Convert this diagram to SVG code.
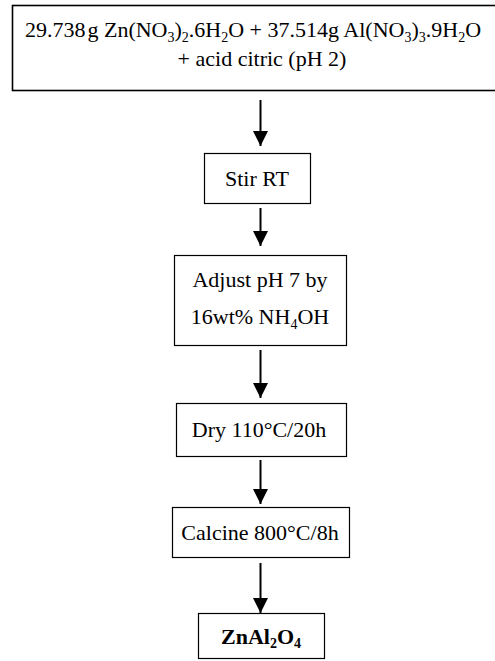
<svg xmlns="http://www.w3.org/2000/svg" width="495" height="661" viewBox="0 0 495 661">
<defs>
<style>
.box{fill:#fff;stroke:#000;stroke-width:1.2}
.t{font-family:"Liberation Serif","Times New Roman",serif;font-size:22px;fill:#000}
.c{text-anchor:middle}
.sub{font-size:14px}
.con{stroke:#000;stroke-width:2;fill:none}
</style>
<marker id="ah" viewBox="0 0 15 15" markerWidth="15" markerHeight="15" markerUnits="userSpaceOnUse" refX="15" refY="7.5" orient="auto">
<path d="M0,0 L15,7.5 L0,15 z" fill="#000"/>
</marker>
</defs>
<rect width="495" height="661" fill="#fff"/>
<g id="connectors">
<line class="con" x1="260.5" y1="100" x2="260.5" y2="146" marker-end="url(#ah)"/>
<line class="con" x1="260.5" y1="208" x2="260.5" y2="246" marker-end="url(#ah)"/>
<line class="con" x1="260.5" y1="350" x2="260.5" y2="398" marker-end="url(#ah)"/>
<line class="con" x1="260.5" y1="460" x2="260.5" y2="504" marker-end="url(#ah)"/>
<line class="con" x1="260.5" y1="563" x2="260.5" y2="613" marker-end="url(#ah)"/>
</g>
<g id="n1">
<rect class="box" x="12.5" y="5.5" width="500" height="85" style="stroke-width:1.6"/>
<text class="t c" x="253" y="37">29.738<tspan dx="2">g Zn(NO</tspan><tspan class="sub" dy="5">3</tspan><tspan dy="-5">)</tspan><tspan class="sub" dy="5">2</tspan><tspan dy="-5">.6H</tspan><tspan class="sub" dy="5">2</tspan><tspan dy="-5">O + 37.514g Al(NO</tspan><tspan class="sub" dy="5">3</tspan><tspan dy="-5">)</tspan><tspan class="sub" dy="5">3</tspan><tspan dy="-5">.9H</tspan><tspan class="sub" dy="5">2</tspan><tspan dy="-5">O</tspan></text>
<text class="t c" x="262" y="66">+ acid citric (pH 2)</text>
</g>
<g id="n2">
<rect class="box" x="204.5" y="153.5" width="106" height="50"/>
<text class="t c" x="257" y="186">Stir RT</text>
</g>
<g id="n3">
<rect class="box" x="174.5" y="255.5" width="172" height="90"/>
<text class="t c" x="260" y="287">Adjust pH 7 by</text>
<text class="t c" x="260" y="324">16wt% NH<tspan class="sub" dy="5">4</tspan><tspan dy="-5">OH</tspan></text>
</g>
<g id="n4">
<rect class="box" x="176.5" y="403.5" width="170" height="53"/>
<text class="t c" x="259" y="437">Dry 110°C/20h</text>
</g>
<g id="n5">
<rect class="box" x="172.5" y="507.5" width="177" height="50"/>
<text class="t c" x="260" y="540">Calcine 800°C/8h</text>
</g>
<g id="n6">
<rect class="box" x="198.5" y="613.5" width="126" height="45"/>
<text class="t c" x="261" y="644" font-weight="bold" font-size="19">ZnAl<tspan class="sub" dy="4" font-size="12">2</tspan><tspan dy="-4">O</tspan><tspan class="sub" dy="4" font-size="12">4</tspan></text>
</g>
</svg>
